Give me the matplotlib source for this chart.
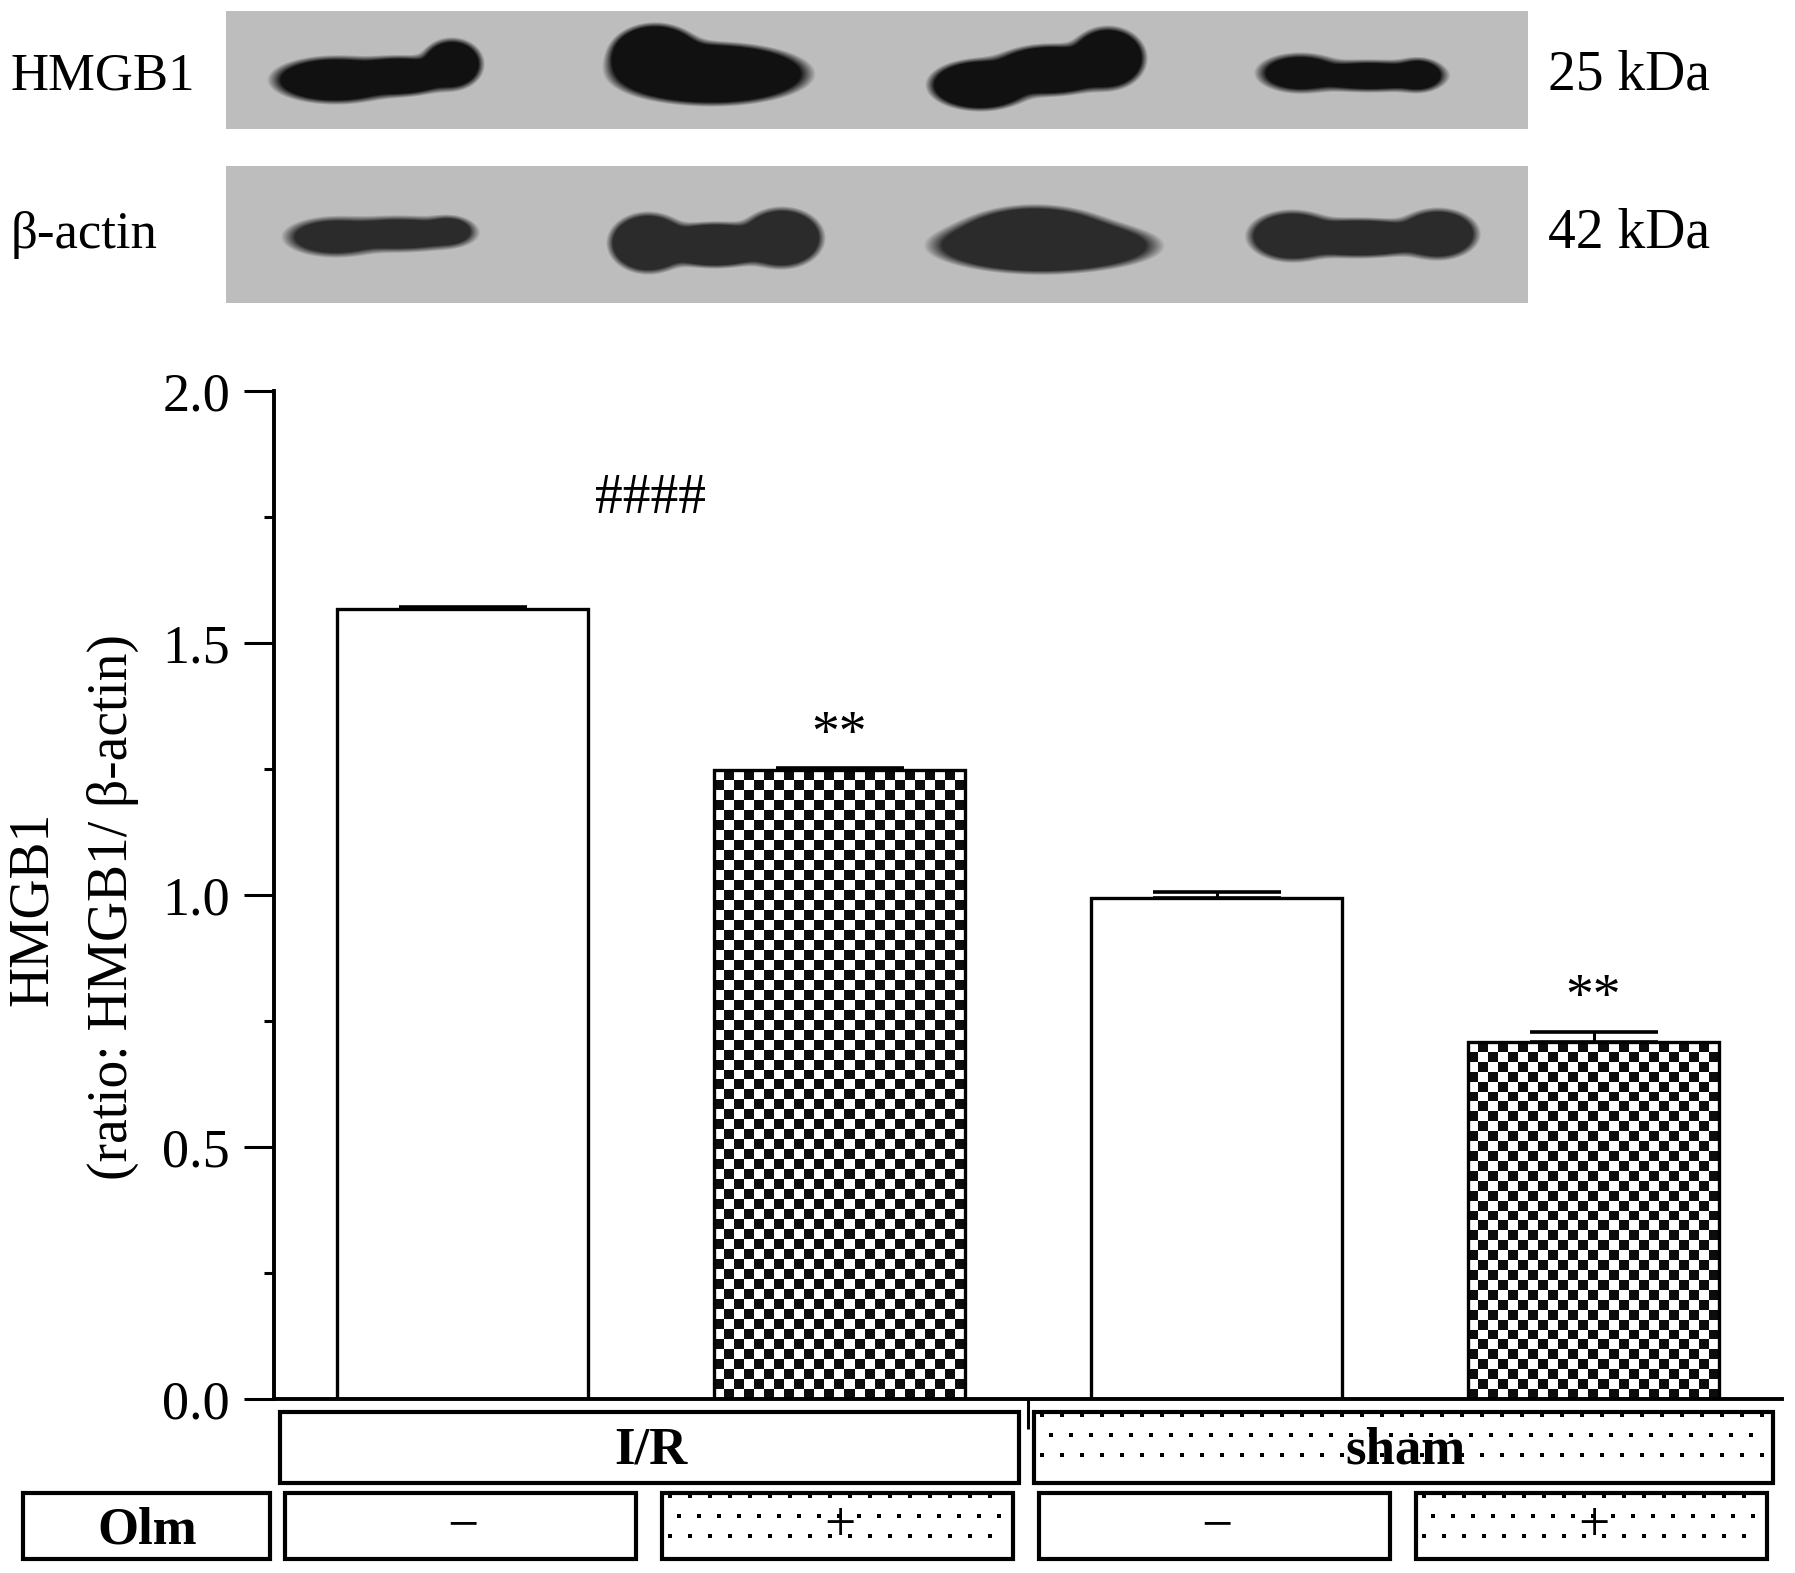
import numpy as np
import matplotlib
matplotlib.use('Agg')
import matplotlib.pyplot as plt
from matplotlib.patches import Rectangle

plt.rcParams['font.family'] = ['Liberation Serif', 'DejaVu Serif']

# data
groups = ['I/R', 'sham']
olm = ['\u2212', '+', '\u2212', '+']
values = [1.567, 1.248, 0.994, 0.708]
errors = [0.004, 0.003, 0.011, 0.020]
marks = ['', '**', '', '**']
hash_mark = '####'
blot_names = ['HMGB1', '\u03b2-actin']
blot_kda = ['25 kDa', '42 kDa']
yticks = [0.0, 0.5, 1.0, 1.5, 2.0]

W, H = 1795, 1573
fig = plt.figure(figsize=(W / 100, H / 100), dpi=100)
ax = fig.add_axes([274 / W, 1 - 1399 / H, (1782 - 274) / W, (1399 - 391) / H])
ax.set_xlim(-0.5, 3.5)
ax.set_ylim(0, 2)

x = np.arange(len(values))
bw = 0.665
bars = ax.bar(x, values, width=bw, color='white', edgecolor='none', zorder=1)

# checkerboard fill for the Olm-treated bars
for b, o in zip(bars, olm):
    if o != '+':
        continue
    x0, w, h = b.get_x(), b.get_width(), b.get_height()
    p0 = ax.transData.transform((x0, 0))
    p1 = ax.transData.transform((x0 + w, h))
    nx = int(round((p1[0] - p0[0]) / 10))
    ny = int(round((p1[1] - p0[1]) / 10))
    cb = np.indices((ny, nx)).sum(axis=0) % 2
    im = ax.imshow(cb, cmap='gray_r', vmin=0, vmax=1.05, extent=(x0, x0 + w, 0, h),
                   aspect='auto', interpolation='nearest', zorder=2)
    im.set_clip_path(b)

ax.bar(x, values, width=bw, fill=False, edgecolor='black', linewidth=2.4, zorder=3)
ax.errorbar(x, values, yerr=[np.zeros(len(values)), errors], fmt='none', ecolor='black',
            elinewidth=2.2, capsize=46, capthick=2.6, zorder=4)
ax.set_xlim(-0.5, 3.5)
ax.set_ylim(0, 2)

for i, m in enumerate(marks):
    if m:
        ax.text(x[i], values[i] + errors[i] + 0.037, m, ha='center', va='baseline', fontsize=40)
ax.text(0.5, 1.758, hash_mark, ha='center', va='baseline', fontsize=40)

ax.spines[['top', 'right']].set_visible(False)
for s in ['left', 'bottom']:
    ax.spines[s].set_linewidth(2.8)
ax.set_yticks(yticks)
ax.set_yticklabels(['%.1f' % t for t in yticks])
ax.set_yticks(np.arange(0.25, 2, 0.5), minor=True)
ax.tick_params(axis='y', which='major', direction='out', length=21.6, width=2.2, labelsize=39, pad=10)
ax.tick_params(axis='y', which='minor', direction='out', length=7, width=2.2)
ax.set_xticks([1.5])
ax.set_xticklabels([''])
ax.tick_params(axis='x', direction='out', length=21.6, width=2.2)

# overlay in pixel coordinates for blots, labels and group boxes
ov = fig.add_axes([0, 0, 1, 1])
ov.set_xlim(0, W)
ov.set_ylim(H, 0)
ov.axis('off')

blot_x = (226, 1528)
blot_rows = [(11, 129), (166, 303)]
blot_dark = [0.07, 0.17]
bands = [
    [[(335, 80, 68, 25), (400, 76, 55, 21), (452, 64, 33, 27)],
     [(712, 74, 104, 33), (655, 55, 48, 33)],
     [(980, 85, 55, 27), (1050, 70, 62, 27), (1108, 58, 40, 33)],
     [(1300, 73, 46, 21), (1370, 76, 75, 17), (1418, 75, 28, 18)]],
    [[(335, 237, 54, 21), (400, 234, 75, 19), (448, 231, 28, 16)],
     [(648, 243, 42, 32), (715, 245, 60, 24), (782, 238, 44, 32)],
     [(1045, 246, 120, 28), (1035, 236, 80, 32)],
     [(1292, 236, 47, 27), (1360, 238, 80, 21), (1438, 234, 43, 27)]],
]
bg = 0.74
for (y0, y1), lanes, dark in zip(blot_rows, bands, blot_dark):
    X, Y = np.meshgrid(np.arange(*blot_x) + 0.5, np.arange(y0, y1) + 0.5)
    m = np.zeros_like(X)
    for lane in lanes:
        # smooth union of the ellipse pieces of one band
        acc = np.zeros_like(X)
        for cx, cy, a, b in lane:
            d = np.sqrt(((X - cx) / a) ** 2 + ((Y - cy) / b) ** 2)
            acc += np.exp(-6 * d)
        d = -np.log(acc) / 6
        s = np.mean([c[3] for c in lane])
        m = np.maximum(m, np.clip((1 - d) * s / 5, 0, 1))
    img = bg - (bg - dark) * m
    ov.imshow(img, cmap='gray', vmin=0, vmax=1, extent=(blot_x[0], blot_x[1], y1, y0),
              aspect='auto', interpolation='bilinear')
ov.set_xlim(0, W)
ov.set_ylim(H, 0)

for name, kda, base in zip(blot_names, blot_kda, [90, 248]):
    ov.text(11, base, name, ha='left', va='baseline', fontsize=38)
    ov.text(1548, base, kda, ha='left', va='baseline', fontsize=40)

ov.text(33, 909, 'HMGB1', rotation=90, ha='center', va='center', fontsize=40)
ov.text(113, 907, '(ratio: HMGB1/ \u03b2-actin)', rotation=90, ha='center', va='center', fontsize=40)


def xpx(xd):
    return ax.transData.transform((xd, 0))[0]


def box(x0, x1, y0, y1, dotted=False):
    ov.add_patch(Rectangle((x0, y0), x1 - x0, y1 - y0, fill=False, edgecolor='black', lw=3))
    if dotted:
        for k, off in enumerate([8, 17, 8]):
            xs = np.arange(x0 + off, x1 - 4, 20)
            ov.scatter(xs, np.full(len(xs), y0 + 3 + 20 * k), marker='s', s=9,
                       color='black', linewidths=0, zorder=3)


for g, name in enumerate(groups):
    c = 2 * g + 0.5
    box(xpx(c - 0.985), xpx(c + 0.975), 1412, 1483, dotted=(g == 1))
    ov.text(xpx(c), 1463, name, ha='center', va='baseline', fontsize=38, fontweight='bold')

box(xpx(-1.165), xpx(-0.51), 1493, 1559)
ov.text((xpx(-1.165) + xpx(-0.51)) / 2, 1543, 'Olm', ha='center', va='baseline',
        fontsize=38, fontweight='bold')
for i, o in enumerate(olm):
    box(xpx(i - 0.47), xpx(i + 0.46), 1493, 1559, dotted=(o == '+'))
    ov.text(xpx(i), 1527, o, ha='center', va='center', fontsize=40)

fig.savefig('out.png', dpi=100)
